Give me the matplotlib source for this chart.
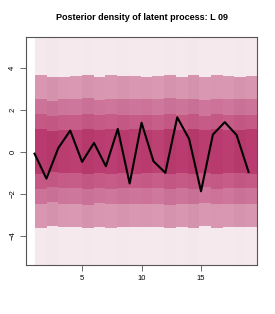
import numpy as np
import matplotlib.pyplot as plt
from matplotlib.colors import to_rgb

plt.rcParams['font.family'] = ['Liberation Sans', 'DejaVu Sans']

# tiempos y valores del proceso latente
tiempos = list(range(1, 20))
latente = [-0.10, -1.29, 0.17, 1.00, -0.49, 0.41, -0.70, 1.08, -1.52, 1.37,
           -0.46, -1.01, 1.63, 0.60, -1.89, 0.81, 1.40, 0.78, -0.97]

# limites superiores de las bandas de densidad (simetricas)
bordes = [3.60, 2.50, 1.75, 1.05]
colores = ['#F6E9EE', '#D996B0', '#CD7399', '#C55985', '#B93A6E']
# pequenas variaciones por columna
desplaz = [0.02, -0.06, -0.02, 0.00, 0.03, -0.03, 0.02, 0.00, 0.01, -0.02,
           0.00, 0.03, -0.01, 0.02, -0.05, 0.02, 0.00, -0.02, 0.01]
tono = [0.00, -0.010, 0.008, 0.015, -0.008, 0.004, 0.012, -0.004, 0.008, 0.00,
        0.018, -0.008, 0.004, -0.010, 0.008, 0.00, 0.012, -0.008, 0.004]

ylim = (-5.45, 5.45)
ys = np.linspace(ylim[1], ylim[0], 400)
img = np.zeros((len(ys), len(tiempos), 3))
for j in range(len(tiempos)):
    for i, y in enumerate(ys):
        nivel = sum(abs(y) < b + desplaz[j] for b in bordes)
        c = np.array(to_rgb(colores[nivel]))
        t = tono[j] * (0.5 if nivel == 0 else 2.0)
        c = c + (1 - c) * t if t > 0 else c * (1 + t)
        img[i, j] = np.clip(c, 0, 1)

fig = plt.figure(figsize=(2.75, 3.14), dpi=100)
ax = fig.add_axes([0.0945, 0.156, 0.8405, 0.726])
ax.imshow(img, extent=[1, 19.72, ylim[0], ylim[1]], aspect='auto',
          interpolation='nearest')
ax.plot(tiempos, latente, color='black', lw=1.5)
ax.set_xlim(0.28, 19.72)
ax.set_ylim(-5.4, 5.45)
ax.set_xticks([5, 10, 15])
ax.set_yticks([-4, -2, 0, 2, 4])
ax.tick_params(labelsize=5.5, length=4, width=0.6, color='#555555', pad=3)
for lab in ax.get_yticklabels():
    lab.set_rotation(90)
    lab.set_va('center')
for s in ax.spines.values():
    s.set_color('#555555')
    s.set_linewidth(0.8)
ax.set_title('Posterior density of latent process: L 09', fontsize=6.5,
             fontweight='bold', pad=12)
fig.savefig('out.png', dpi=100)
